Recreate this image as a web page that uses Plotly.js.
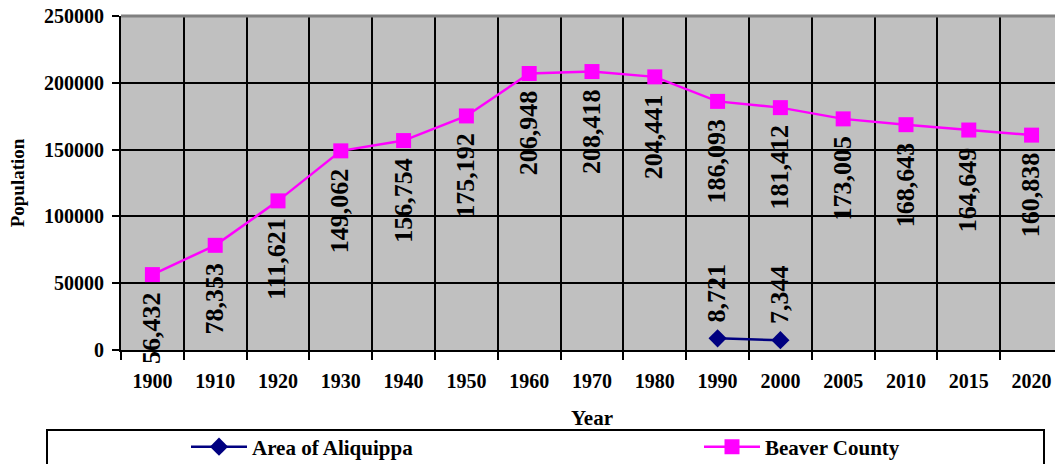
<!DOCTYPE html>
<html>
<head>
<meta charset="utf-8">
<script src="https://cdn.plot.ly/plotly-3.0.1.min.js"></script>
<style>html,body{margin:0;padding:0;overflow:hidden;background:#fff}</style>
</head>
<body>
<div id="chart" style="width:1055px;height:464px"></div>
<script>
var years = ['1900','1910','1920','1930','1940','1950','1960','1970','1980','1990','2000','2005','2010','2015','2020'];
var beaverCounty = [56432, 78353, 111621, 149062, 156754, 175192, 206948, 208418, 204441, 186093, 181412, 173005, 168643, 164649, 160838];
var aliquippaYears = ['1990','2000'];
var aliquippa = [8721, 7344];
var seriesNames = ['Area of Aliquippa', 'Beaver County'];
var xTitle = 'Year';
var yTitle = 'Population';

var FONT = 'Liberation Serif, Times New Roman, serif';

var traces = [
  {
    type: 'scatter', mode: 'lines+markers', name: seriesNames[0],
    x: aliquippaYears, y: aliquippa,
    line: {color: '#000080', width: 2.5},
    marker: {symbol: 'diamond', size: 14, color: '#000080'},
    cliponaxis: false, legend: 'legend'
  },
  {
    type: 'scatter', mode: 'lines+markers', name: seriesNames[1],
    x: years, y: beaverCounty,
    line: {color: '#FF00FF', width: 2.5},
    marker: {symbol: 'square', size: 15, color: '#FF00FF'},
    cliponaxis: false, legend: 'legend2'
  }
];

var annotations = [];
function fmt(v){ return v.toLocaleString('en-US'); }
var labelFont = {family: FONT, size: 26, color: '#000', weight: 'bold'};
beaverCounty.forEach(function(v, i){
  annotations.push({
    x: i, y: v, xref: 'x', yref: 'y', text: fmt(v), showarrow: false,
    textangle: -90, yanchor: 'top', xanchor: 'center', yshift: -15, xshift: -1,
    font: labelFont
  });
});
aliquippa.forEach(function(v, i){
  annotations.push({
    x: years.indexOf(aliquippaYears[i]), y: v, xref: 'x', yref: 'y', text: fmt(v), showarrow: false,
    textangle: -90, yanchor: 'bottom', xanchor: 'center', yshift: 14, xshift: -1,
    font: labelFont
  });
});
// x-axis title placed as annotation (below tick labels)
annotations.push({
  xref: 'paper', yref: 'paper', x: (592-121)/934, y: (350-418)/334,
  xanchor: 'center', yanchor: 'middle', showarrow: false, text: xTitle,
  font: {family: FONT, size: 21, color: '#000', weight: 'bold'}
});

function legendAt(px){
  return {
    orientation: 'h', xref: 'container', yref: 'container',
    x: px/1055, xanchor: 'left', y: 1 - 447/464, yanchor: 'middle',
    bgcolor: 'rgba(0,0,0,0)', borderwidth: 0,
    font: {family: FONT, size: 21, color: '#000', weight: 'bold'},
    itemwidth: 56, itemclick: false, itemdoubleclick: false
  };
}

var layout = {
  width: 1055, height: 464,
  margin: {l: 121, r: 0, t: 16, b: 114},
  paper_bgcolor: '#ffffff',
  plot_bgcolor: '#C0C0C0',
  font: {family: FONT, color: '#000'},
  showlegend: true,
  legend: legendAt(186),
  legend2: legendAt(699),
  xaxis: {
    type: 'category', categoryorder: 'array', categoryarray: years,
    range: [-0.5, 14.373],
    tickson: 'boundaries',
    showgrid: true, gridcolor: '#000', gridwidth: 2,
    showline: true, linecolor: '#000', linewidth: 2,
    ticks: 'outside', ticklen: 8, tickwidth: 2, tickcolor: '#000',
    tickfont: {family: FONT, size: 20, color: '#000', weight: 'bold'},
    ticklabelstandoff: 12,
    fixedrange: true
  },
  yaxis: {
    range: [0, 250000], dtick: 50000, tick0: 0, tickformat: 'd',
    showgrid: true, gridcolor: '#000', gridwidth: 2,
    zeroline: false,
    showline: true, linecolor: '#000', linewidth: 2,
    ticks: 'outside', ticklen: 7, tickwidth: 2, tickcolor: '#000',
    tickfont: {family: FONT, size: 20, color: '#000', weight: 'bold'},
    ticklabelstandoff: 4,
    title: {text: yTitle, font: {family: FONT, size: 19, color: '#000', weight: 'bold'}, standoff: 14},
    fixedrange: true
  },
  shapes: [
    {type: 'line', xref: 'paper', yref: 'paper', x0: 0, x1: 1, y0: 1, y1: 1,
     line: {color: '#808080', width: 3}},
    {type: 'rect', xref: 'paper', yref: 'paper',
     x0: (47-121)/934, x1: (1044-121)/934, y0: (350-430)/334, y1: (350-470)/334,
     line: {color: '#000', width: 2}, fillcolor: 'rgba(0,0,0,0)'}
  ],
  annotations: annotations
};

Plotly.newPlot('chart', traces, layout, {displayModeBar: false, staticPlot: true});
</script>
</body>
</html>
